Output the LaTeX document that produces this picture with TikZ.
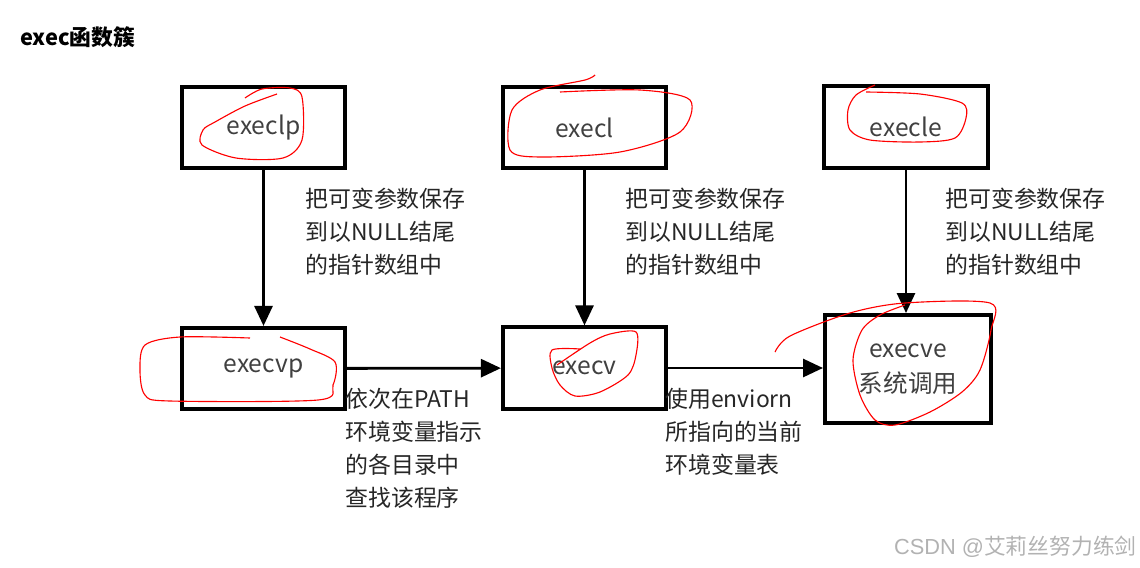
\documentclass[tikz,border=0pt]{standalone}
\usepackage{fontspec}
\setmainfont{Noto Sans CJK SC}
\newfontfamily\markfont{Liberation Sans}
\usetikzlibrary{arrows.meta}

\begin{document}
\begin{tikzpicture}[
    x=0.025cm, y=-0.025cm,
    box/.style={rectangle, draw, line width=2.8pt, minimum width=4.08cm, minimum height=2.03cm, align=center, text=black!75, font=\fontsize{17.5}{25}\selectfont},
    arrow/.style={-{Triangle[length=0.5cm,width=0.45cm]}, line width=2pt},
    note/.style={anchor=north west, inner sep=0pt, align=left, text=black!85, font=\fontsize{16.3}{23.5}\selectfont},
    scribble/.style={red, line width=0.8pt}
  ]
    \useasboundingbox (0,0) rectangle (1140,567);

    % Title
    \node[anchor=west, inner sep=0pt, font=\fontsize{15.5}{18}\selectfont\bfseries] (title) at (20,37) {exec函数簇};

    % Boxes
    \node[box] (execlp) at (263.5,127.5) {execlp};
    \node[box] (execl) at (584.5,127.5) {execl};
    \node[box] (execle) at (906,127) {execle};
    \node[box] (execvp) at (263.5,368.5) {execvp};
    \node[box] (execv) at (584.5,368) {execv};
    \node[box, minimum width=4.15cm, minimum height=2.7cm] (execve) at (908,369) {execve\\系统调用};

    % Arrows
    \draw[arrow] (execlp) -- (execvp);
    \draw[arrow] (execl) -- (execv);
    \draw[arrow] (execle) -- (execle |- execve.north);
    \draw[arrow] (execvp) -- (execv);
    \draw[arrow] (execv.east) -- (execv.east -| execve.west);

    % Notes
    \node[note] (pack1) at (305,188) {把可变参数保存\\到以NULL结尾\\的指针数组中};
    \node[note] (pack2) at (625,188) {把可变参数保存\\到以NULL结尾\\的指针数组中};
    \node[note] (pack3) at (945,188) {把可变参数保存\\到以NULL结尾\\的指针数组中};
    \node[note] (search) at (345,388) {依次在PATH\\环境变量指示\\的各目录中\\查找该程序};
    \node[note] (environ) at (665,388) {使用enviorn\\所指向的当前\\环境变量表};

    % Red marks
    \draw[scribble] plot[smooth] coordinates {(245,98) (262,89) (290,88) (302,97) (302,140) (283,158) (236,158) (202,145) (203,130) (215,122) (245,106) (277,94)};
    \draw[scribble] plot[smooth] coordinates {(595,75) (585,80) (540,90) (512,110) (510,150) (540,157) (620,152) (680,132) (690,100) (640,90) (560,92)};
    \draw[scribble] plot[smooth] coordinates {(875,85) (856,95) (848,110) (850,130) (870,140) (920,142) (955,138) (966,118) (962,103) (920,94) (866,92)};
    \draw[scribble] plot[smooth] coordinates {(280,337) (310,349) (335,362) (333,385) (318,400) (170,401) (145,395) (140,370) (145,345) (180,337) (250,338)};
    \draw[scribble] plot[smooth] coordinates {(557,365) (590,343) (610,334) (636,332) (636,355) (628,375) (600,392) (575,396) (560,385) (552,368) (552,350) (580,349)};
    \draw[scribble] plot[smooth] coordinates {(775,352) (790,336) (850,313) (905,303) (990,303) (991,330) (980,370) (962,392) (930,412) (895,425) (875,420) (860,395) (853,360) (862,330) (880,315) (905,305)};

    % Watermark
    \node[anchor=east, inner sep=0pt, text=black!30, font=\markfont\fontsize{15.5}{18}\selectfont] (mark) at (1137,547) {CSDN @{\rmfamily 艾莉丝努力练剑}};
  \end{tikzpicture}
\end{document}
